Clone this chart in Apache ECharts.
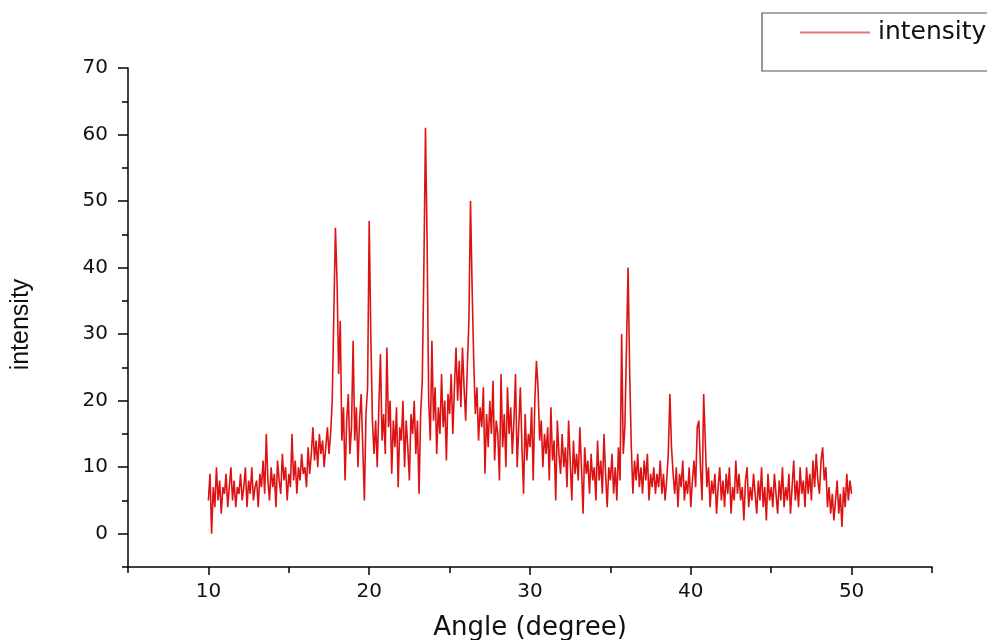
<!DOCTYPE html>
<html>
<head>
<meta charset="utf-8">
<script src="https://cdn.jsdelivr.net/npm/echarts@6/dist/echarts.min.js"></script>
<style>html,body{margin:0;padding:0;background:#fff}#c{width:987px;height:640px}</style>
</head>
<body>
<div id="c"></div>
<script>
var angleStart = 10.0;
var angleStep = 0.1;
var intensity = [
  5, 9, 0, 7, 4, 10, 5, 8, 3, 7,
  6, 9, 4, 7, 10, 5, 8, 4, 7, 6,
  9, 5, 7, 10, 4, 8, 6, 10, 5, 7,
  8, 4, 9, 7, 11, 6, 15, 8, 5, 10,
  7, 9, 4, 11, 8, 6, 12, 8, 10, 5,
  9, 7, 15, 8, 11, 6, 10, 8, 12, 9,
  10, 7, 13, 9, 12, 16, 11, 14, 10, 15,
  12, 14, 10, 13, 16, 12, 15, 20, 33, 46,
  38, 24, 32, 14, 19, 8, 17, 21, 12, 16,
  29, 14, 19, 10, 17, 21, 13, 5, 18, 22,
  47, 30, 17, 12, 17, 10, 19, 27, 14, 18,
  12, 28, 16, 20, 9, 17, 13, 19, 7, 16,
  14, 20, 10, 17, 13, 8, 18, 15, 20, 12,
  17, 6, 18, 23, 40, 61, 44, 20, 14, 29,
  17, 22, 12, 19, 15, 24, 16, 20, 11, 21,
  18, 24, 15, 22, 28, 20, 26, 19, 28, 22,
  17, 25, 32, 50, 37, 26, 18, 22, 14, 19,
  16, 22, 9, 18, 13, 20, 15, 23, 11, 17,
  15, 8, 24, 13, 18, 10, 22, 15, 19, 12,
  17, 24, 10, 16, 22, 13, 6, 18, 11, 15,
  13, 19, 8, 20, 26, 22, 14, 17, 10, 15,
  12, 16, 8, 19, 11, 14, 5, 17, 12, 9,
  15, 10, 13, 7, 17, 11, 5, 14, 9, 12,
  8, 16, 10, 3, 13, 9, 11, 6, 12, 8,
  10, 5, 14, 8, 11, 6, 15, 9, 4, 10,
  8, 12, 6, 10, 5, 13, 8, 30, 12, 16,
  28, 40, 24, 13, 6, 11, 8, 12, 7, 10,
  6, 11, 8, 12, 5, 9, 7, 10, 6, 9,
  7, 11, 6, 9, 5, 8, 12, 21, 13, 9,
  6, 10, 4, 9, 7, 11, 5, 8, 6, 10,
  4, 8, 11, 7, 16, 17, 10, 5, 21, 14,
  7, 10, 4, 8, 6, 9, 3, 7, 10, 5,
  8, 4, 9, 6, 10, 3, 7, 5, 11, 6,
  9, 5, 7, 2, 8, 10, 4, 7, 5, 9,
  6, 3, 8, 5, 10, 4, 7, 2, 9, 5,
  7, 4, 9, 6, 3, 8, 5, 10, 4, 7,
  5, 9, 3, 7, 11, 5, 8, 4, 10, 6,
  8, 4, 10, 6, 9, 5, 11, 7, 12, 8,
  6, 11, 13, 8, 10, 4, 7, 3, 6, 2,
  5, 8, 3, 6, 1, 7, 4, 9, 5, 8,
  6
];
var xTickLabels = [10, 20, 30, 40, 50];
var xMinorTicks = [5, 15, 25, 35, 45, 55];
var yTickLabels = [0, 10, 20, 30, 40, 50, 60, 70];
var yMinorTicks = [-5, 5, 15, 25, 35, 45, 55, 65];

var points = intensity.map(function (v, i) {
  return [+(angleStart + i * angleStep).toFixed(2), v];
});

var chart = echarts.init(document.getElementById('c'), null, {renderer: 'canvas'});
var font = '"DejaVu Sans", "Liberation Sans", Arial, sans-serif';
var font2 = '"Liberation Sans", Arial, sans-serif';
var axisLineStyle = {color: '#000', width: 1.5};
chart.setOption({
  animation: false,
  backgroundColor: '#ffffff',
  grid: {left: 128, right: 55, top: 68, bottom: 73, containLabel: false, outerBoundsMode: 'none'},
  legend: {
    data: ['intensity'],
    left: 795, top: 15,
    icon: 'rect', itemWidth: 70, itemHeight: 2,
    itemStyle: {color: '#e07a7a'},
    textStyle: {fontFamily: font, fontSize: 25, color: '#111', padding: [0, 0, 0, 3]}
  },
  graphic: [{
    type: 'rect',
    shape: {x: 762, y: 13, width: 240, height: 58},
    style: {fill: 'none', stroke: '#555', lineWidth: 1.2},
    z: 100
  }],
  xAxis: [{
    type: 'value', min: 5, max: 55,
    name: 'Angle (degree)', nameLocation: 'middle', nameGap: 48,
    nameTextStyle: {fontFamily: font, fontSize: 26, color: '#111'},
    axisLine: {show: true, onZero: false, lineStyle: axisLineStyle},
    axisTick: {show: true, inside: false, length: 8, customValues: xTickLabels, lineStyle: axisLineStyle},
    axisLabel: {fontFamily: font, fontSize: 20, color: '#111', margin: 15, customValues: xTickLabels},
    splitLine: {show: false}
  }, {
    type: 'value', min: 5, max: 55, position: 'bottom',
    axisLine: {show: false, onZero: false},
    axisTick: {show: true, inside: false, length: 6, customValues: xMinorTicks, lineStyle: axisLineStyle},
    axisLabel: {show: false},
    splitLine: {show: false}
  }],
  yAxis: [{
    type: 'value', min: -5, max: 70,
    name: 'intensity', nameLocation: 'middle', nameGap: 94, nameRotate: 90,
    nameTextStyle: {fontFamily: font2, fontSize: 25, color: '#111', padding: [0, 14, 0, 0]},
    axisLine: {show: true, onZero: false, lineStyle: axisLineStyle},
    axisTick: {show: true, inside: false, length: 10, customValues: yTickLabels, lineStyle: axisLineStyle},
    axisLabel: {fontFamily: font, fontSize: 20, color: '#111', margin: 20, customValues: yTickLabels},
    splitLine: {show: false}
  }, {
    type: 'value', min: -5, max: 70, position: 'left',
    axisLine: {show: false, onZero: false},
    axisTick: {show: true, inside: false, length: 6, customValues: yMinorTicks, lineStyle: axisLineStyle},
    axisLabel: {show: false},
    splitLine: {show: false}
  }],
  series: [{
    name: 'intensity',
    type: 'line',
    xAxisIndex: 0, yAxisIndex: 0,
    data: points,
    showSymbol: false,
    symbol: 'none',
    lineStyle: {color: '#dd1313', width: 1.6},
    itemStyle: {color: '#dd1313'}
  }]
});
</script>
</body>
</html>
